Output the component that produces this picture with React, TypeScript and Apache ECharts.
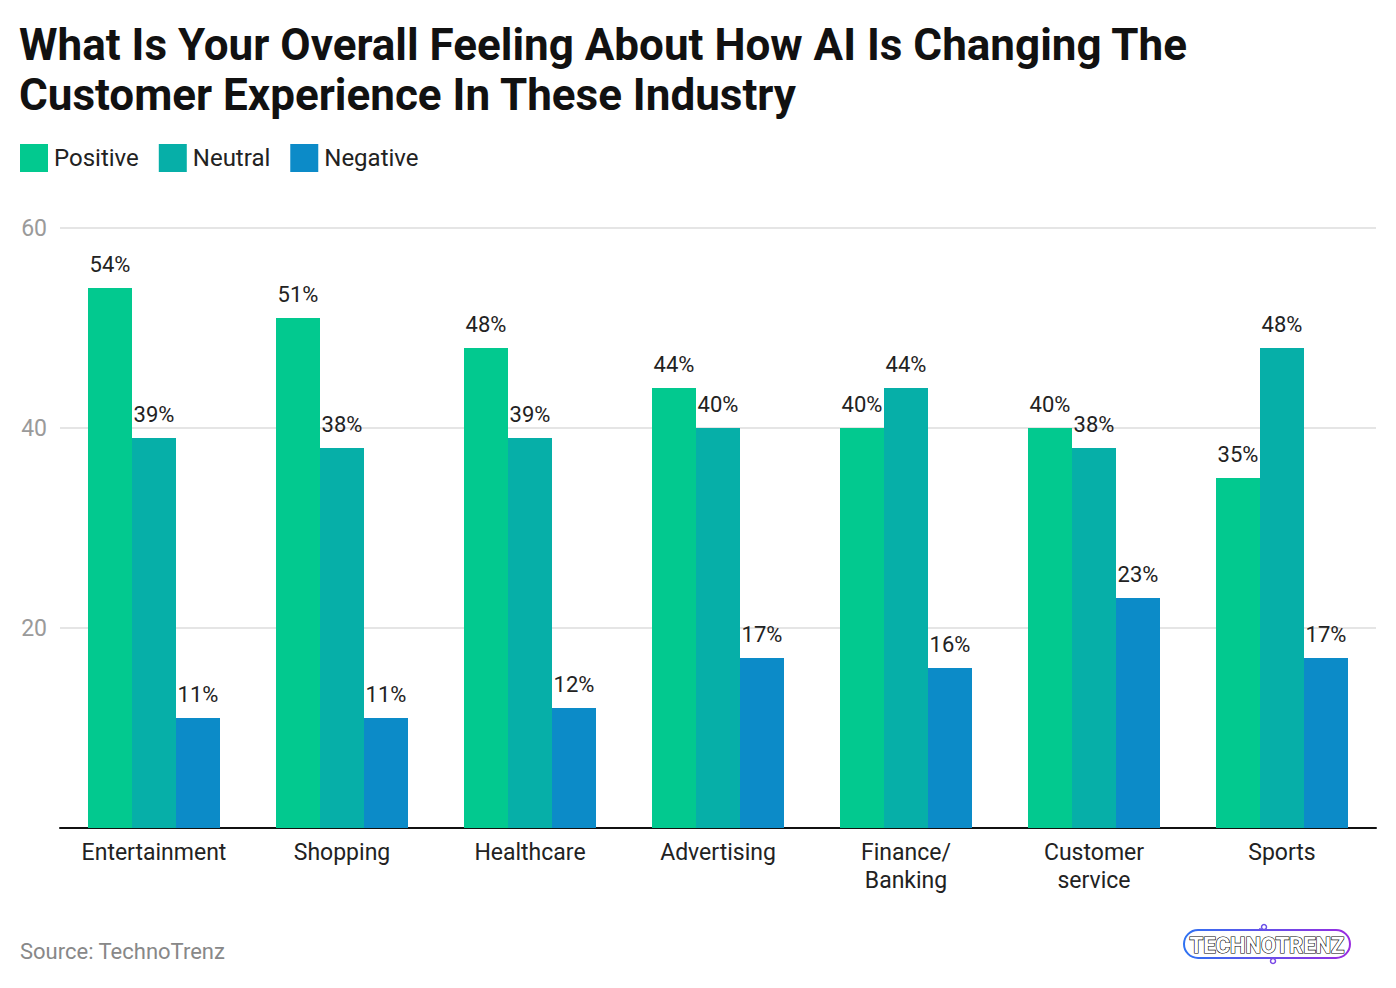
import React, { useEffect, useRef } from "react";
import * as echarts from "echarts";

const categories = ["Entertainment", "Shopping", "Healthcare", "Advertising", "Finance/\nBanking", "Customer\nservice", "Sports"];
const positive = [54, 51, 48, 44, 40, 40, 35];
const neutral = [39, 38, 39, 40, 44, 38, 48];
const negative = [11, 11, 12, 17, 16, 23, 17];
const yTicks = [0, 20, 40, 60];

const COLORS = ["#02C98F", "#06AFA8", "#0C8BC8"];
const FONT = "Roboto";

export default function App() {
  const ref = useRef<HTMLDivElement>(null);
  useEffect(() => {
    const chart = echarts.init(ref.current!, null, { renderer: "svg" });
    const grad = () =>
      new echarts.graphic.LinearGradient(0, 0, 1, 0, [
        { offset: 0, color: "#2f72f2" },
        { offset: 1, color: "#9a2ce0" },
      ]);
    const mk = (name: string, data: number[], i: number) => ({
      name,
      type: "bar",
      data,
      barWidth: 44,
      barGap: "0%",
      itemStyle: { color: COLORS[i] },
      label: {
        show: true,
        position: "top",
        formatter: "{c}%",
        color: "#222",
        fontSize: 22,
        fontFamily: FONT,
        distance: 13,
      },
    });
    chart.setOption({
      animation: false,
      textStyle: { fontFamily: FONT },
      title: {
        text: "What Is Your Overall Feeling About How AI Is Changing The\nCustomer Experience In These Industry",
        left: 19,
        top: 20,
        padding: 0,
        textStyle: { fontSize: 44, fontWeight: "bold", color: "#111", fontFamily: FONT, lineHeight: 50 },
      },
      legend: {
        left: 20,
        top: 144,
        padding: 0,
        itemWidth: 28,
        itemHeight: 28,
        itemGap: 20,
        icon: "rect",
        textStyle: { fontSize: 24, color: "#222", fontFamily: FONT, padding: [0, 0, 0, 1] },
        data: ["Positive", "Neutral", "Negative"],
      },
      grid: { left: 60, right: 20, top: 228, bottom: 160, containLabel: false },
      xAxis: {
        type: "category",
        data: categories,
        axisLine: { lineStyle: { color: "#111", width: 2 } },
        axisTick: { show: false },
        axisLabel: { color: "#222", fontSize: 23, fontFamily: FONT, margin: 10, lineHeight: 28, interval: 0 },
      },
      yAxis: {
        type: "value",
        min: yTicks[0],
        max: yTicks[yTicks.length - 1],
        interval: 20,
        axisLabel: {
          color: "#9a9a9a",
          fontSize: 23,
          fontFamily: FONT,
          margin: 13,
          formatter: (v: number) => (v === 0 ? "" : String(v)),
        },
        splitLine: { lineStyle: { color: "#ddd", width: 1.5 } },
        axisLine: { show: false },
        axisTick: { show: false },
      },
      series: [mk("Positive", positive, 0), mk("Neutral", neutral, 1), mk("Negative", negative, 2)],
      graphic: [
        {
          type: "text",
          left: 20,
          top: 940,
          style: { text: "Source: TechnoTrenz", fontSize: 22, fill: "#888", fontFamily: FONT },
        },
        {
          type: "rect",
          shape: { x: 1184, y: 930, width: 166, height: 28, r: 14 },
          style: { fill: "none", lineWidth: 2, stroke: grad() },
        },
        {
          type: "line",
          shape: { x1: 1260, y1: 930, x2: 1260, y2: 928 },
          style: { stroke: "#6a50e8", lineWidth: 1.5 },
        },
        { type: "circle", shape: { cx: 1264, cy: 927, r: 2.5 }, style: { fill: "#fff", stroke: "#6a50e8", lineWidth: 1.5 } },
        { type: "circle", shape: { cx: 1273, cy: 961, r: 2.5 }, style: { fill: "#fff", stroke: "#7a48e6", lineWidth: 1.5 } },
        {
          type: "text",
          x: 1267,
          y: 945,
          style: {
            text: "TECHNOTRENZ",
            fontSize: 22,
            fontWeight: "bold",
            fontFamily: FONT,
            align: "center",
            verticalAlign: "middle",
            fill: "#fff",
            stroke: grad(),
            lineWidth: 1.2,
          },
        },
      ],
    });
    return () => chart.dispose();
  }, []);
  return <div ref={ref} style={{ position: "absolute", left: 0, top: 0, width: 1396, height: 988 }} />;
}
